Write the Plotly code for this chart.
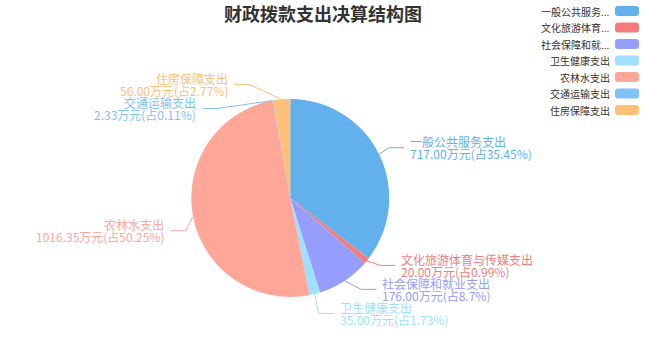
import math
import plotly.graph_objects as go

# ---------------- data ----------------
categories = ["一般公共服务支出", "文化旅游体育与传媒支出", "社会保障和就业支出",
              "卫生健康支出", "农林水支出", "交通运输支出", "住房保障支出"]
values = [717.00, 20.00, 176.00, 35.00, 1016.35, 2.33, 56.00]
percents = ["35.45", "0.99", "8.7", "1.73", "50.25", "0.11", "2.77"]
colors = ["#62b0ec", "#f47c7c", "#959dfd", "#a0dffd", "#fea698", "#7ec2f9", "#fec077"]
title_text = "财政拨款支出决算结构图"
unit = "万元"

# ---------------- geometry (pixels) ----------------
W, H = 645, 360
CX, CY = 0.45 * W, 0.55 * H
R = 0.55 * min(W, H) / 2
LEN1, LEN2, GAP = 15, 15, 5
LABEL_H = 24
FONT = "Noto Sans CJK SC, Microsoft YaHei, sans-serif"


def px(x):
    return x / W


def py(y):
    return 1 - y / H


fig = go.Figure(go.Pie(
    labels=categories, values=values, sort=False, direction="clockwise", rotation=0,
    marker=dict(colors=colors, line=dict(width=0)),
    textinfo="none", hoverinfo="label+value+percent", showlegend=False,
    domain=dict(x=[px(CX - R), px(CX + R)], y=[py(CY + R), py(CY - R)]),
))

# ---------------- outside label layout (echarts-like) ----------------
total = sum(values)
items = []
cum = 0.0
for i, v in enumerate(values):
    ang = (cum + v / 2) / total * 2 * math.pi
    cum += v
    dx, dy = math.sin(ang), -math.cos(ang)
    x1, y1 = CX + R * dx, CY + R * dy
    x2, y2 = x1 + dx * LEN1, y1 + dy * LEN1
    side = -1 if dx < 0 else 1
    x3 = x2 + side * LEN2
    items.append(dict(i=i, x=x3 + side * GAP, y=y2, p0=(x1, y1), side=side, h=LABEL_H))


def change_x(lst, is_down, side):
    last = float("inf") if is_down else 0.0
    for d in lst:
        dyy = abs(d["y"] - CY)
        if dyy < R + LEN1:
            ddx = math.sqrt((R + LEN1 + LEN2) ** 2 - dyy ** 2)
        else:
            ddx = abs(d["x"] - CX)
        if is_down and ddx >= last:
            ddx = last - 10
        if (not is_down) and ddx <= last:
            ddx = last + 10
        d["x"] = CX + ddx * side
        last = ddx


def adjust(lst, side):
    lst.sort(key=lambda d: d["y"])
    n = len(lst)

    def shift_up(end, delta):
        for j in range(end, -1, -1):
            if lst[j]["y"] - delta < 0:
                break
            lst[j]["y"] -= delta
            if j > 0 and lst[j]["y"] > lst[j - 1]["y"] + lst[j - 1]["h"]:
                break

    def shift_down(start, end, delta):
        for j in range(start, end):
            if lst[j]["y"] + delta > H:
                break
            lst[j]["y"] += delta
            if j > start and j + 1 < end and lst[j + 1]["y"] > lst[j]["y"] + lst[j]["h"]:
                shift_up(j, delta / 2)
                return
        shift_up(end - 1, delta / 2)

    last_y = 0
    for k in range(n):
        delta = lst[k]["y"] - last_y
        if delta < 0:
            shift_down(k, n, -delta)
        last_y = lst[k]["y"] + lst[k]["h"]
    if H - last_y < 0:
        shift_up(n - 1, last_y - H)
    up = [d for d in lst if d["y"] < CY]
    down = [d for d in lst if d["y"] >= CY]
    change_x(up, False, side)
    change_x(down, True, side)


left = [d for d in items if d["x"] < CX]
right = [d for d in items if d["x"] >= CX]
adjust(left, -1)
adjust(right, 1)

shapes = []
annotations = []
for d in items:
    i, s = d["i"], d["side"]
    col = colors[i]
    x0, y0 = d["p0"]
    p2x = d["x"] - s * GAP
    p1x = p2x - s * LEN2
    path = f"M {px(x0)},{py(y0)} L {px(p1x)},{py(d['y'])} L {px(p2x)},{py(d['y'])}"
    shapes.append(dict(type="path", xref="paper", yref="paper", path=path,
                       line=dict(color=col, width=1)))
    lines = [categories[i], f"{values[i]:.2f}{unit}(占{percents[i]}%)"]
    for k, t in enumerate(lines):
        annotations.append(dict(
            text=t, x=px(d["x"]), y=py(d["y"] + (k - 0.5) * 12),
            xref="paper", yref="paper", showarrow=False,
            xanchor="left" if s > 0 else "right", yanchor="middle",
            font=dict(family=FONT, size=12, color=col), borderpad=0,
        ))

# ---------------- title ----------------
annotations.append(dict(
    text=title_text, x=0.5, y=py(13), xref="paper", yref="paper", showarrow=False,
    xanchor="center", yanchor="middle",
    font=dict(family=FONT, size=18, color="#333333", weight="bold"),
))

# ---------------- legend (text left, swatch right) ----------------
LEG_TOP, LEG_STEP = 11, 16.5
SW_X0, SW_X1, SW_H, SW_R = 615, 639, 10, 3
for i, name in enumerate(categories):
    label = name if len(name) <= 6 else name[:6] + "..."
    yc = LEG_TOP + i * LEG_STEP
    annotations.append(dict(
        text=label, x=px(611), y=py(yc), xref="paper", yref="paper", showarrow=False,
        xanchor="right", yanchor="middle", borderpad=0,
        font=dict(family=FONT, size=10, color="#333333"),
    ))
    ya, yb = yc - SW_H / 2, yc + SW_H / 2
    rx, ry = SW_R, SW_R
    pth = (f"M {px(SW_X0 + rx)},{py(ya)} L {px(SW_X1 - rx)},{py(ya)} "
           f"Q {px(SW_X1)},{py(ya)} {px(SW_X1)},{py(ya + ry)} "
           f"L {px(SW_X1)},{py(yb - ry)} Q {px(SW_X1)},{py(yb)} {px(SW_X1 - rx)},{py(yb)} "
           f"L {px(SW_X0 + rx)},{py(yb)} Q {px(SW_X0)},{py(yb)} {px(SW_X0)},{py(yb - ry)} "
           f"L {px(SW_X0)},{py(ya + ry)} Q {px(SW_X0)},{py(ya)} {px(SW_X0 + rx)},{py(ya)} Z")
    shapes.append(dict(type="path", xref="paper", yref="paper", path=pth,
                       fillcolor=colors[i], line=dict(width=0)))

fig.update_layout(
    width=W, height=H, margin=dict(l=0, r=0, t=0, b=0),
    paper_bgcolor="white", plot_bgcolor="white",
    shapes=shapes, annotations=annotations, showlegend=False,
    font=dict(family=FONT),
)

fig.write_html("out.html", config={"displayModeBar": False},
               post_script="document.body.style.margin='0px';document.body.style.overflow='hidden';")
